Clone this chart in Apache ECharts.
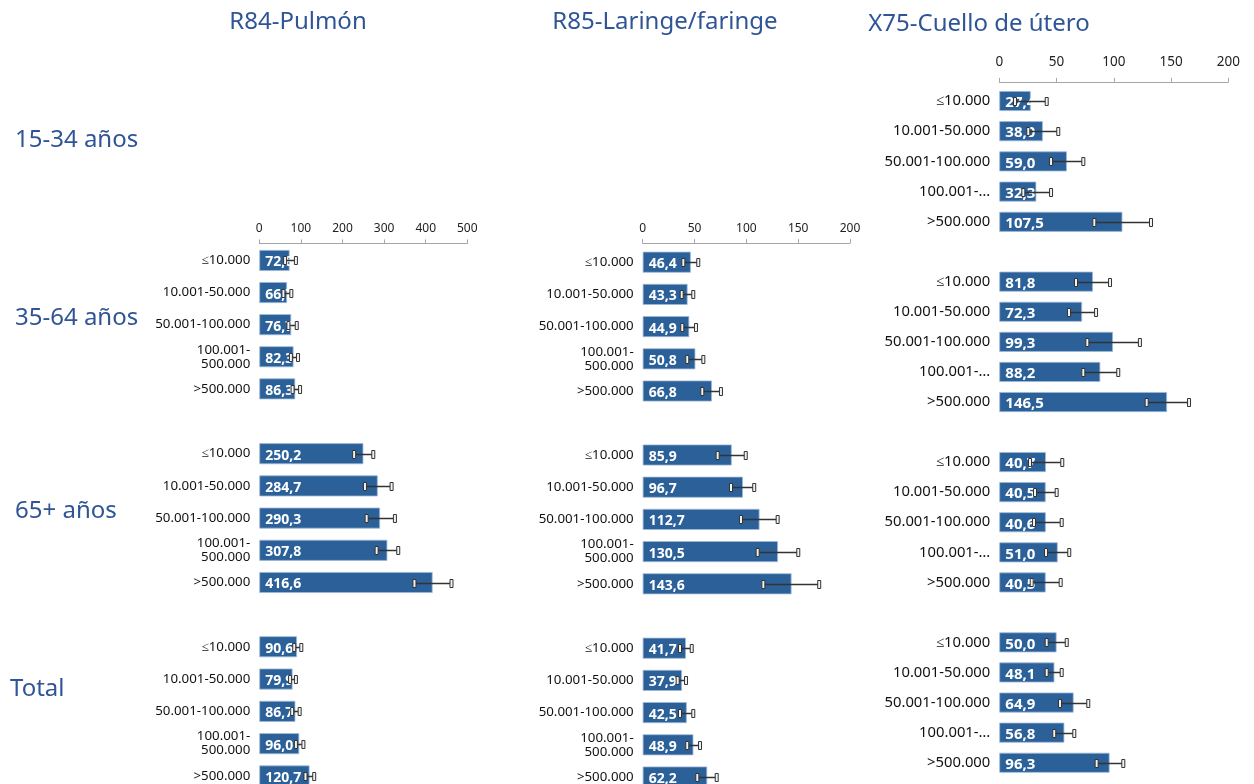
<!DOCTYPE html>
<html>
<head>
<meta charset="utf-8">
<title>Tasas por tamaño de municipio</title>
<script src="https://cdn.jsdelivr.net/npm/echarts@6/dist/echarts.min.js"></script>
<style>
* { margin: 0; padding: 0; }
body { background: #fff; }
#main { width: 1254px; height: 784px; }
</style>
</head>
<body>
<div id="main"></div>
<script>
// tamaño del municipio (eje de categorías)
const categorias = ['≤10.000', '10.001-50.000', '50.001-100.000', '100.001-500.000', '>500.000']

// R84-Pulmón (tasa, IC inferior, IC superior)
const r84_35_64 = [72.8, 66.7, 76.7, 82.3, 86.3]
const r84_35_64_inf = [62.0, 58.0, 70.0, 76.0, 80.0]
const r84_35_64_sup = [88.0, 77.0, 90.0, 93.0, 98.0]
const r84_65 = [250.2, 284.7, 290.3, 307.8, 416.6]
const r84_65_inf = [228.0, 254.0, 258.0, 282.0, 373.0]
const r84_65_sup = [274.0, 318.0, 326.0, 334.0, 462.0]
const r84_total = [90.6, 79.9, 86.7, 96.0, 120.7]
const r84_total_inf = [84.0, 74.0, 79.0, 88.0, 111.0]
const r84_total_sup = [101.0, 88.0, 97.0, 106.0, 132.0]

// R85-Laringe/faringe
const r85_35_64 = [46.4, 43.3, 44.9, 50.8, 66.8]
const r85_35_64_inf = [39.2, 37.6, 38.2, 43.0, 57.5]
const r85_35_64_sup = [53.6, 48.8, 51.4, 58.5, 75.5]
const r85_65 = [85.9, 96.7, 112.7, 130.5, 143.6]
const r85_65_inf = [72.3, 85.2, 94.8, 110.9, 116.4]
const r85_65_sup = [99.4, 107.6, 130.2, 150.1, 170.3]
const r85_total = [41.7, 37.9, 42.5, 48.9, 62.2]
const r85_total_inf = [36.0, 33.7, 36.0, 43.0, 52.7]
const r85_total_sup = [47.3, 41.8, 48.8, 55.3, 71.4]

// X75-Cuello de útero
const x75_15_34 = [27.4, 38.0, 59.0, 32.3, 107.5]
const x75_15_34_inf = [13.7, 25.3, 45.2, 21.0, 83.0]
const x75_15_34_sup = [41.4, 51.5, 73.4, 45.2, 132.5]
const x75_35_64 = [81.8, 72.3, 99.3, 88.2, 146.5]
const x75_35_64_inf = [67.0, 60.9, 76.9, 73.4, 128.7]
const x75_35_64_sup = [96.7, 84.5, 122.8, 103.9, 165.7]
const x75_65 = [40.7, 40.5, 40.6, 51.0, 40.5]
const x75_65_inf = [26.8, 31.2, 30.3, 40.8, 28.3]
const x75_65_sup = [55.0, 50.1, 54.5, 61.1, 53.6]
const x75_total = [50.0, 48.1, 64.9, 56.8, 96.3]
const x75_total_inf = [41.4, 41.4, 53.0, 48.0, 85.0]
const x75_total_sup = [58.9, 54.5, 77.7, 65.5, 108.3]

const titulos = ['R84-Pulmón', 'R85-Laringe/faringe', 'X75-Cuello de útero']
const grupos = ['15-34 años', '35-64 años', '65+ años', 'Total']

const FONT = 'Noto Sans'
const AZUL = '#2F5597'
const BARRA = '#2B6198'

// columnas: posición del eje y escala
const columnas = {
    r84: { left: 259.3, width: 208, max: 500, interval: 100, catSize: 13.3, tickSize: 12, valSize: 14, barW: 21, corto: false, offset: 1 },
    r85: { left: 642.7, width: 207.3, max: 200, interval: 50, catSize: 13.3, tickSize: 12, valSize: 14, barW: 21, corto: false, offset: 3 },
    x75: { left: 999.3, width: 229, max: 200, interval: 50, catSize: 14.8, tickSize: 13.5, valSize: 15, barW: 20, corto: true, offset: 4 }
}

const paneles = [
    { col: 'r84', top: 244.4, band: 32.1, eje: true, v: r84_35_64, inf: r84_35_64_inf, sup: r84_35_64_sup },
    { col: 'r84', top: 437.6, band: 32.2, v: r84_65, inf: r84_65_inf, sup: r84_65_sup },
    { col: 'r84', top: 630.6, band: 32.3, v: r84_total, inf: r84_total_inf, sup: r84_total_sup },
    { col: 'r85', top: 246.1, band: 32.2, eje: true, v: r85_35_64, inf: r85_35_64_inf, sup: r85_35_64_sup },
    { col: 'r85', top: 438.9, band: 32.2, v: r85_65, inf: r85_65_inf, sup: r85_65_sup },
    { col: 'r85', top: 632.1, band: 32.2, v: r85_total, inf: r85_total_inf, sup: r85_total_sup },
    { col: 'x75', top: 85.9, band: 30.2, eje: true, v: x75_15_34, inf: x75_15_34_inf, sup: x75_15_34_sup },
    { col: 'x75', top: 266.6, band: 30.1, v: x75_35_64, inf: x75_35_64_inf, sup: x75_35_64_sup },
    { col: 'x75', top: 447.0, band: 30.1, v: x75_65, inf: x75_65_inf, sup: x75_65_sup },
    { col: 'x75', top: 627.3, band: 30.1, v: x75_total, inf: x75_total_inf, sup: x75_total_sup }
]

function barraError(params, api) {
    const a = api.coord([api.value(0), api.value(2)])
    const b = api.coord([api.value(1), api.value(2)])
    const y = Math.round(a[1]) + 0.5
    const w = 3, h = 8
    const cap = x => ({
        type: 'rect',
        shape: { x: x - w / 2, y: y - h / 2, width: w, height: h },
        style: { fill: '#f2f2f2', stroke: '#333', lineWidth: 1 }
    })
    return {
        type: 'group',
        children: [
            { type: 'line', shape: { x1: a[0], y1: y, x2: b[0], y2: y }, style: { stroke: '#333', lineWidth: 1.5 } },
            cap(a[0]),
            cap(b[0])
        ]
    }
}

const grid = [], xAxis = [], yAxis = [], series = []
paneles.forEach((p, i) => {
    const c = columnas[p.col]
    grid.push({ left: c.left, top: p.top, width: c.width, height: p.band * 5, containLabel: false, outerBoundsMode: 'none' })
    xAxis.push({
        type: 'value', gridIndex: i, position: 'top', offset: c.offset,
        min: 0, max: c.max, interval: c.interval,
        show: !!p.eje,
        splitLine: { show: false },
        axisLine: { show: true, lineStyle: { color: '#a6a6a6', width: 1 } },
        axisTick: { show: true, length: 4, lineStyle: { color: '#a6a6a6' } },
        axisLabel: { color: '#222', fontFamily: FONT, fontSize: c.tickSize, margin: p.col === 'x75' ? 13 : 9 }
    })
    yAxis.push({
        type: 'category', gridIndex: i, data: categorias, inverse: true,
        axisLine: { show: false }, axisTick: { show: false },
        axisLabel: {
            color: '#111', fontFamily: FONT, fontSize: c.catSize, margin: 9, lineHeight: 14,
            formatter: v => v === '100.001-500.000' ? (c.corto ? '100.001-…' : '100.001-\n500.000') : v
        }
    })
    series.push({
        type: 'bar', xAxisIndex: i, yAxisIndex: i, data: p.v, barWidth: c.barW,
        itemStyle: { color: BARRA, borderColor: '#9db9da', borderWidth: 0.8 },
        label: {
            show: true, position: 'insideLeft', distance: 6, offset: [0, 2],
            color: '#fff', fontWeight: 'bold', fontFamily: FONT, fontSize: c.valSize,
            formatter: d => d.value.toFixed(1).replace('.', ',')
        },
        z: 2
    })
    series.push({
        type: 'custom', xAxisIndex: i, yAxisIndex: i,
        data: p.v.map((_, k) => [p.inf[k], p.sup[k], k]),
        encode: { x: [0, 1], y: 2 },
        renderItem: barraError,
        z: 5
    })
})

const posTitulos = [[298, 22], [665, 22], [979, 24]]
const posGrupos = [[15, 140], [15, 318], [15, 511], [10, 689]]
const textos = []
titulos.forEach((t, i) => textos.push({
    type: 'text', x: posTitulos[i][0], y: posTitulos[i][1],
    style: { text: t, fill: AZUL, font: '24px "' + FONT + '"', align: 'center', verticalAlign: 'middle' }
}))
grupos.forEach((t, i) => textos.push({
    type: 'text', x: posGrupos[i][0], y: posGrupos[i][1],
    style: { text: t, fill: AZUL, font: '24px "' + FONT + '"', align: 'left', verticalAlign: 'middle' }
}))

const chart = echarts.init(document.getElementById('main'))
chart.setOption({
    animation: false,
    backgroundColor: '#fff',
    graphic: textos,
    grid: grid,
    xAxis: xAxis,
    yAxis: yAxis,
    series: series
})
</script>
</body>
</html>
